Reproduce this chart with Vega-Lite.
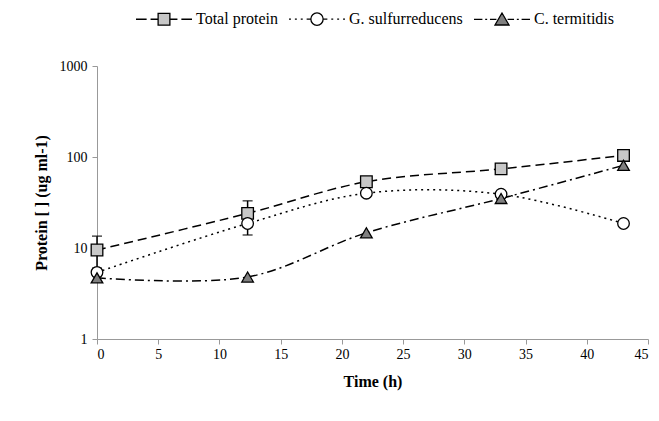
{
  "$schema": "https://vega.github.io/schema/vega-lite/v6.json",
  "width": 551,
  "height": 273,
  "autosize": "none",
  "padding": {"left": 97, "top": 66, "right": 11, "bottom": 82},
  "background": "white",
  "config": {
    "view": {"stroke": null},
    "font": "Liberation Serif",
    "axis": {
      "labelFont": "Liberation Serif",
      "labelFontSize": 14,
      "labelColor": "black",
      "titleFont": "Liberation Serif",
      "titleFontSize": 16,
      "titleFontWeight": "bold",
      "titleColor": "black",
      "domainColor": "#999999",
      "tickColor": "#999999",
      "tickSize": 5,
      "grid": false
    }
  },
  "datasets": {
    "series": [
      {"time": 0, "protein": 9.5, "series": "Total protein"},
      {"time": 12.3, "protein": 24, "series": "Total protein"},
      {"time": 22, "protein": 53.5, "series": "Total protein"},
      {"time": 33, "protein": 74, "series": "Total protein"},
      {"time": 43, "protein": 104, "series": "Total protein"},
      {"time": 0, "protein": 5.4, "series": "G. sulfurreducens"},
      {"time": 12.3, "protein": 18.6, "series": "G. sulfurreducens"},
      {"time": 22, "protein": 40, "series": "G. sulfurreducens"},
      {"time": 33, "protein": 39, "series": "G. sulfurreducens"},
      {"time": 43, "protein": 18.6, "series": "G. sulfurreducens"},
      {"time": 0, "protein": 4.7, "series": "C. termitidis"},
      {"time": 12.3, "protein": 4.8, "series": "C. termitidis"},
      {"time": 22, "protein": 14.7, "series": "C. termitidis"},
      {"time": 33, "protein": 35, "series": "C. termitidis"},
      {"time": 43, "protein": 81, "series": "C. termitidis"}
    ],
    "errs": [
      {"time": 0, "lo": 6, "hi": 13.5, "series": "Total protein"},
      {"time": 12.3, "lo": 17, "hi": 33, "series": "Total protein"},
      {"time": 12.3, "lo": 13.9, "hi": 24, "series": "G. sulfurreducens"}
    ]
  },
  "layer": [
    {
      "data": {"name": "series"},
      "mark": {"type": "line", "interpolate": "catmull-rom", "color": "black", "strokeWidth": 1.5},
      "encoding": {
        "x": {
          "field": "time", "type": "quantitative",
          "scale": {"domain": [0, 45], "nice": false, "zero": false},
          "axis": {"values": [0, 5, 10, 15, 20, 25, 30, 35, 40, 45], "title": "Time (h)", "titlePadding": 12, "labelPadding": 3}
        },
        "y": {
          "field": "protein", "type": "quantitative",
          "scale": {"type": "log", "domain": [1, 1000], "nice": false},
          "axis": {"values": [1, 10, 100, 1000], "format": "d", "title": "Protein [ ] (ug ml-1)", "titlePadding": 10, "labelPadding": 5}
        },
        "detail": {"field": "series"},
        "strokeDash": {
          "field": "series", "type": "nominal",
          "scale": {"domain": ["G. sulfurreducens", "C. termitidis", "Total protein"], "range": [[2, 4], [9, 4, 2, 4], [9, 5]]},
          "legend": null
        }
      }
    },
    {
      "data": {"name": "errs"},
      "mark": {"type": "rule", "color": "black", "strokeWidth": 1.5},
      "encoding": {
        "x": {"field": "time", "type": "quantitative"},
        "y": {"field": "lo", "type": "quantitative"},
        "y2": {"field": "hi"}
      }
    },
    {
      "data": {"name": "errs"},
      "mark": {"type": "tick", "orient": "horizontal", "color": "black", "size": 10, "thickness": 1.5},
      "encoding": {
        "x": {"field": "time", "type": "quantitative"},
        "y": {"field": "hi", "type": "quantitative"}
      }
    },
    {
      "data": {"name": "errs"},
      "mark": {"type": "tick", "orient": "horizontal", "color": "black", "size": 10, "thickness": 1.5},
      "encoding": {
        "x": {"field": "time", "type": "quantitative"},
        "y": {"field": "lo", "type": "quantitative"}
      }
    },
    {
      "data": {"name": "series"},
      "mark": {"type": "point", "filled": true, "stroke": "black", "strokeWidth": 1.3, "size": 135, "opacity": 1},
      "encoding": {
        "x": {"field": "time", "type": "quantitative"},
        "y": {"field": "protein", "type": "quantitative"},
        "shape": {
          "field": "series", "type": "nominal",
          "scale": {"domain": ["C. termitidis", "Total protein", "G. sulfurreducens"], "range": ["triangle-up", "square", "circle"]},
          "legend": null
        },
        "fill": {
          "field": "series", "type": "nominal",
          "scale": {"domain": ["Total protein", "G. sulfurreducens", "C. termitidis"], "range": ["#c8c8c8", "#ffffff", "#808080"]},
          "legend": {
            "title": null,
            "orient": "none",
            "legendX": 38,
            "legendY": -76,
            "direction": "horizontal",
            "columns": 3,
            "columnPadding": 8,
            "symbolSize": 3136,
            "symbolStrokeColor": "black",
            "symbolStrokeWidth": 1.3,
            "symbolType": {"expr": "datum.value === 'Total protein' ? 'M-1,0H-0.62M-0.48,0H-0.21M-0.21,-0.21H0.21V0.21H-0.21ZM0.21,0H0.48M0.62,0H1' : datum.value === 'G. sulfurreducens' ? 'M-1,0H-0.93M-0.79,0H-0.72M-0.58,0H-0.51M-0.37,0H-0.22M0.22,0A0.22,0.22,0,1,1,-0.22,0A0.22,0.22,0,1,1,0.22,0ZM0.22,0H0.37M0.51,0H0.58M0.72,0H0.79M0.93,0H1' : 'M-1,0H-0.7M-0.6,0H-0.53M-0.43,0H-0.2M0,-0.23L0.25,0.2H-0.25ZM0.2,0H0.43M0.53,0H0.6M0.7,0H1'"},
            "labelFont": "Liberation Serif",
            "labelFontSize": 16,
            "labelColor": "black",
            "labelOffset": 3
          }
        }
      }
    }
  ]
}
